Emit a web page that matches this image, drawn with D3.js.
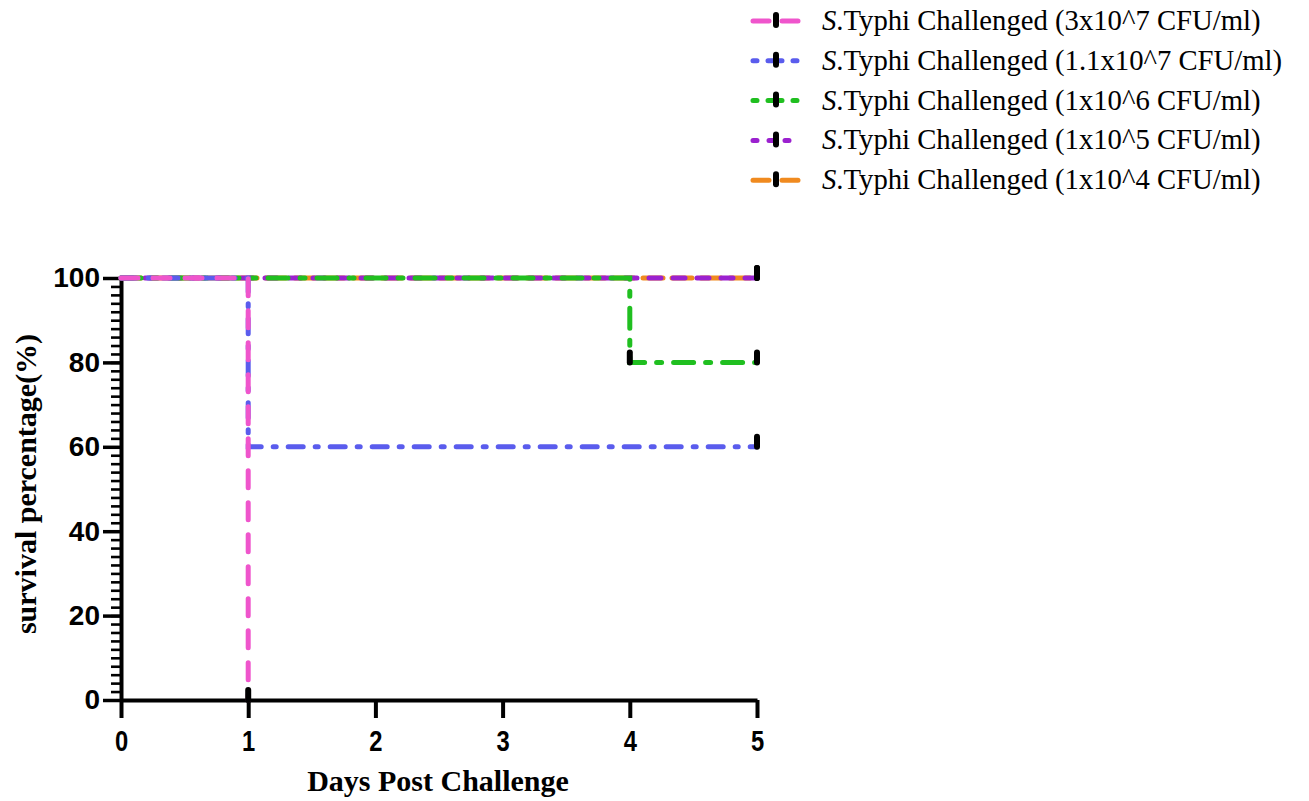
<!DOCTYPE html>
<html>
<head>
<meta charset="utf-8">
<script src="https://cdn.jsdelivr.net/npm/d3@7"></script>
<style>
  body { margin: 0; background: #fff; }
  svg { display: block; }
</style>
</head>
<body>
<svg id="chart" width="1309" height="801"></svg>
<script>
// survival data
const seriesNames = [
   "3x10^7 CFU/ml",
   "1.1x10^7 CFU/ml",
   "1x10^6 CFU/ml",
   "1x10^5 CFU/ml",
   "1x10^4 CFU/ml"
]
const seriesColors = ["#ef55cc", "#5a5ced", "#20bf20", "#9b21cf", "#f08a1f"]
const seriesDash = ["17,15", "15,12,3,12", "20,12,5,12", "12,12", "20,9"]
const seriesDays = [[0, 1], [0, 1, 5], [0, 4, 5], [0, 5], [0, 5]]
const seriesSurvival = [[100, 0], [100, 60, 60], [100, 80, 80], [100, 100], [100, 100]]
const censorDays = [[1], [5], [4, 5], [5], [5]]
const censorSurvival = [[0], [60], [80, 80], [100], [100]]
const xTicks = [0, 1, 2, 3, 4, 5]
const yTicks = [0, 20, 40, 60, 80, 100]
const yMinorTicks = d3.range(0, 101, 2)

var svg = d3.select("#chart")
var margin = {left: 121, top: 278, right: 552, bottom: 101}
var width = 1309 - margin.left - margin.right
var height = 801 - margin.top - margin.bottom

var xScale = d3.scaleLinear().domain([0, 5]).range([0, width])
var yScale = d3.scaleLinear().domain([0, 100]).range([height, 0])

var chart = svg.append("g")
   .attr("transform", "translate(" + margin.left + "," + margin.top + ")")

// minor y ticks
chart.append("g")
   .attr("class", "y-minor")
   .call(d3.axisLeft(yScale).tickValues(yMinorTicks).tickSize(10).tickSizeOuter(0).tickFormat(""))
   .call(g => g.select(".domain").remove())
   .call(g => g.selectAll("line").attr("stroke", "#000").attr("stroke-width", 2.6))

// major y axis
chart.append("g")
   .attr("class", "y-axis")
   .call(d3.axisLeft(yScale).tickValues(yTicks).tickSize(18).tickSizeOuter(0).tickPadding(3))
   .call(g => g.select(".domain").attr("stroke", "#000").attr("stroke-width", 4))
   .call(g => g.selectAll("line").attr("stroke", "#000").attr("stroke-width", 3.5))
   .call(g => g.selectAll("text")
      .attr("font-family", "'Liberation Sans', Arial, sans-serif")
      .attr("font-weight", "bold")
      .attr("font-size", 28)
      .attr("fill", "#000"))

// x axis, labels a bit narrower like the original
chart.append("g")
   .attr("class", "x-axis")
   .attr("transform", "translate(0," + height + ")")
   .call(d3.axisBottom(xScale).tickValues(xTicks).tickSize(18).tickSizeOuter(0).tickPadding(12).tickFormat(d3.format("d")))
   .call(g => g.select(".domain").attr("stroke", "#000").attr("stroke-width", 4))
   .call(g => g.selectAll("line").attr("stroke", "#000").attr("stroke-width", 4))
   .call(g => g.selectAll("text")
      .attr("font-family", "'Liberation Sans', Arial, sans-serif")
      .attr("font-weight", "bold")
      .attr("font-size", 29)
      .attr("transform", "scale(0.82,1)")
      .attr("fill", "#000"))

// axis titles
svg.append("text")
   .attr("x", 438)
   .attr("y", 791)
   .attr("text-anchor", "middle")
   .attr("font-family", "'Liberation Serif', 'Times New Roman', serif")
   .attr("font-weight", "bold")
   .attr("font-size", 30)
   .text("Days Post Challenge")

svg.append("text")
   .attr("transform", "translate(36,484) rotate(-90)")
   .attr("text-anchor", "middle")
   .attr("font-family", "'Liberation Serif', 'Times New Roman', serif")
   .attr("font-weight", "bold")
   .attr("font-size", 30)
   .text("survival percentage(%)")

// step lines, drawn last series first so pink ends up on top
var line = d3.line()
   .x(d => xScale(d[0]))
   .y(d => yScale(d[1]))
   .curve(d3.curveStepAfter)

var order = d3.range(seriesNames.length).reverse()
order.forEach(function(i) {
   var pts = seriesDays[i].map((d, j) => [d, seriesSurvival[i][j]])
   chart.append("path")
      .datum(pts)
      .attr("d", line)
      .attr("fill", "none")
      .attr("stroke", seriesColors[i])
      .attr("stroke-width", 5)
      .attr("stroke-linecap", "round")
      .attr("stroke-dasharray", seriesDash[i])
})

// censor marks
order.forEach(function(i) {
   chart.selectAll(".censor-" + i)
      .data(censorDays[i].map((d, j) => [d, censorSurvival[i][j]]))
      .join("rect")
      .attr("class", "censor-" + i)
      .attr("x", d => xScale(d[0]) - 3)
      .attr("y", d => yScale(d[1]) - 13)
      .attr("width", 6)
      .attr("height", 16)
      .attr("rx", 3)
      .attr("fill", "#000")
})

// legend
var legend = svg.append("g").attr("class", "legend")
seriesNames.forEach(function(name, i) {
   var cy = 21 + i * 39.8
   var row = legend.append("g").attr("transform", "translate(0," + cy + ")")
   row.append("line")
      .attr("x1", 753).attr("x2", 800)
      .attr("y1", 0).attr("y2", 0)
      .attr("stroke", seriesColors[i])
      .attr("stroke-width", 5)
      .attr("stroke-linecap", "round")
      .attr("stroke-dasharray", i == 0 || i == 4 ? "16,13" : (i == 3 ? "4,12" : "4,11,14,11"))
   row.append("rect")
      .attr("x", 773).attr("y", -9)
      .attr("width", 6).attr("height", 16)
      .attr("rx", 3)
      .attr("fill", "#000")
   var txt = row.append("text")
      .attr("x", 822)
      .attr("y", 9)
      .attr("font-family", "'Liberation Serif', 'Times New Roman', serif")
      .attr("font-size", 28.7)
      .attr("fill", "#000")
   txt.append("tspan").attr("font-style", "italic").text("S")
   txt.append("tspan").text(".Typhi Challenged (" + name + ")")
})
</script>
</body>
</html>
